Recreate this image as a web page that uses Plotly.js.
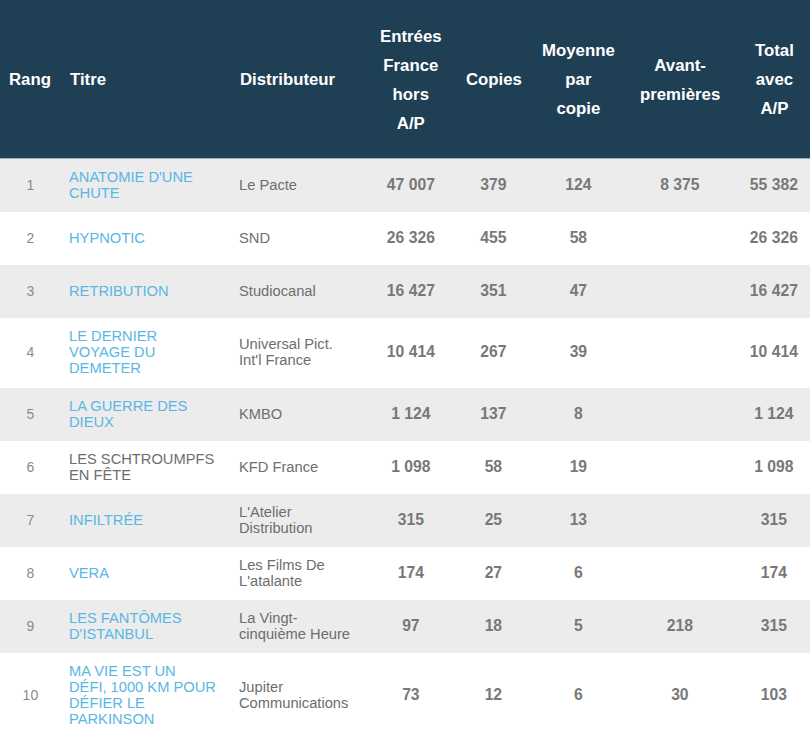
<!DOCTYPE html>
<html><head><meta charset="utf-8">
<script src="https://cdn.plot.ly/plotly-3.0.1.min.js"></script>
<style>html,body{margin:0;padding:0;background:#fff;}#chart{width:810px;height:733px;}</style>
</head><body><div id="chart"></div>
<script>
// ---- data ----
const headers = ["Rang", "Titre", "Distributeur", "Entrées<br>France<br>hors<br>A/P", "Copies", "Moyenne<br>par<br>copie", "Avant-<br>premières", "Total<br>avec<br>A/P"];
const rangs = [1, 2, 3, 4, 5, 6, 7, 8, 9, 10];
const titres = ["ANATOMIE D'UNE<br>CHUTE", "HYPNOTIC", "RETRIBUTION", "LE DERNIER<br>VOYAGE DU<br>DEMETER", "LA GUERRE DES<br>DIEUX", "LES SCHTROUMPFS<br>EN FÊTE", "INFILTRÉE", "VERA", "LES FANTÔMES<br>D'ISTANBUL", "MA VIE EST UN<br>DÉFI, 1000 KM POUR<br>DÉFIER LE<br>PARKINSON"];
const distributeurs = ["Le Pacte", "SND", "Studiocanal", "Universal Pict.<br>Int'l France", "KMBO", "KFD France", "L'Atelier<br>Distribution", "Les Films De<br>L'atalante", "La Vingt-<br>cinquième Heure", "Jupiter<br>Communications"];
const entrees = [47007, 26326, 16427, 10414, 1124, 1098, 315, 174, 97, 73];
const copies = [379, 455, 351, 267, 137, 58, 25, 27, 18, 12];
const moyenne = [124, 58, 47, 39, 8, 19, 13, 6, 5, 6];
const avantPremieres = [8375, null, null, null, null, null, null, null, 218, 30];
const totalAP = [55382, 26326, 16427, 10414, 1124, 1098, 315, 174, 315, 103];
const linkTitle = [true, true, true, true, true, false, true, true, true, true];

// ---- layout / style ----
const FONT = "Liberation Sans, Arial, sans-serif";
const colWidths = [61, 170, 139, 82, 83, 87, 116, 72];
const W = 810, H = 733, HEAD_H = 159;
const TXT = 14.7, NUM = 15.7, RANK = 14, HEAD = 16.8;
const HALF = 8;            // half line step in data cells (line spacing 16px)
const HEAD_STEP = 29;      // header line spacing
const ANCHOR = 8;          // invisible anchor glyph size -> top offset
const ASC = 0.905, DESC = 0.212;
const targetH = {2: 53, 3: 70, 4: 79};

const NB = "\u00a0";
const span = (t, s, b) => { const x = '<span style="font-size:' + s + 'px">' + t + '</span>'; return b ? '<b>' + x + '</b>' : x; };
function fmtNum(v) { return v == null ? "" : String(v).replace(/\B(?=(\d{3})+(?!\d))/g, " "); }
const splitLines = s => String(s).split("<br>").filter(x => x !== "");
const nLines = s => String(s).split("<br>").length;
const rowLines = rangs.map((r, i) => Math.max(2, nLines(titres[i]), nLines(distributeurs[i])));

// each cell: anchor line, then real lines on a half-step grid, vertically centred in the row
function cellText(str, rl, size, bold, fillerIdx, fillerSize) {
  const lines = splitLines(str);
  const slots = [];
  slots[0] = span(NB, ANCHOR, false);
  const lead = rl - lines.length;
  lines.forEach((l, j) => { slots[1 + lead + 2 * j] = span(l, size, bold); });
  if (fillerIdx != null) slots[fillerIdx] = span(NB, fillerSize, false);
  const n = slots.length;
  const out = [];
  for (let k = 0; k < n; k++) out.push(slots[k] || "");
  return out.join("<br>");
}

// filler so that rows with 3 lines reach the reference height
function fillerFor(i) {
  const need = targetH[rowLines[i]] - 16;
  const top = ASC * ANCHOR;
  const natural = top + HALF * (2 * rowLines[i] - 1) + DESC * TXT;
  if (need <= natural + 0.5) return null;
  const k = 2 * rowLines[i] - 1;
  const s = (need - top - HALF * k) / DESC;
  return {k: k, s: s};
}
const fillers = rangs.map((r, i) => fillerFor(i));

const cols = [
  rangs.map((v, i) => cellText(v, rowLines[i], RANK, false)),
  titres.map((v, i) => cellText(v, rowLines[i], TXT, false)),
  distributeurs.map((v, i) => cellText(v, rowLines[i], TXT, false)),
  entrees.map((v, i) => cellText(fmtNum(v), rowLines[i], NUM, true)),
  copies.map((v, i) => cellText(fmtNum(v), rowLines[i], NUM, true)),
  moyenne.map((v, i) => cellText(fmtNum(v), rowLines[i], NUM, true)),
  avantPremieres.map((v, i) => {
    const f = fillers[i];
    return cellText(fmtNum(v), rowLines[i], NUM, true, f ? f.k : null, f ? f.s : null);
  }),
  totalAP.map((v, i) => cellText(fmtNum(v), rowLines[i], NUM, true))
];

const rowFill = rangs.map((r, i) => i % 2 === 0 ? "#ececec" : "#ffffff");
const grey = "#787878";
const fontColors = [
  "#8a8a8a",
  linkTitle.map(l => l ? "#5ab6e4" : "#6e6e6e"),
  "#6e6e6e", grey, grey, grey, grey, grey
];
const cellAlign = ["center", "left", "left", "center", "center", "center", "center", "center"];
const headAlign = ["left", "left", "left", "center", "center", "center", "center", "center"];

const trace = {
  type: "table",
  domain: {x: [0, 1], y: [0, 1]},
  columnwidth: colWidths,
  header: {
    values: headers.map(h => [""]),
    fill: {color: "#1f3f55"},
    line: {width: 0, color: "#1f3f55"},
    height: HEAD_H,
    font: {family: FONT, size: 12, color: "#ffffff"}
  },
  cells: {
    values: cols,
    align: cellAlign,
    fill: {color: [rowFill]},
    line: {width: 0, color: "#ffffff"},
    height: targetH[2],
    font: {family: FONT, size: HALF / 1.3, color: fontColors}
  }
};

// header labels (multi-line, each line centred)
let acc = 0;
const annotations = headers.map((h, c) => {
  const x0 = acc; acc += colWidths[c];
  const left = headAlign[c] === "left";
  return {
    xref: "paper", yref: "paper",
    x: left ? (x0 + 8) / W : (x0 + colWidths[c] / 2) / W,
    y: 1 - (HEAD_H / 2) / H,
    xanchor: left ? "left" : "center", yanchor: "middle",
    align: left ? "left" : "center",
    showarrow: false, borderpad: 0,
    text: splitLines(h).map(l => "<b>" + span(l, HEAD, false) + "</b>").join("<br>"),
    font: {family: FONT, size: HEAD_STEP / 1.3, color: "#ffffff"}
  };
});

Plotly.newPlot("chart", [trace], {
  width: W, height: H,
  margin: {l: 0, r: 0, t: 0, b: 0, pad: 0},
  paper_bgcolor: "#ffffff",
  showlegend: false,
  annotations: annotations,
  shapes: [{type: "line", xref: "paper", yref: "paper", x0: 0, x1: 1,
            y0: 1 - (HEAD_H - 0.5) / H, y1: 1 - (HEAD_H - 0.5) / H,
            line: {color: "#9fb0bf", width: 1}}]
}, {displayModeBar: false, staticPlot: true});
</script>
</body></html>
